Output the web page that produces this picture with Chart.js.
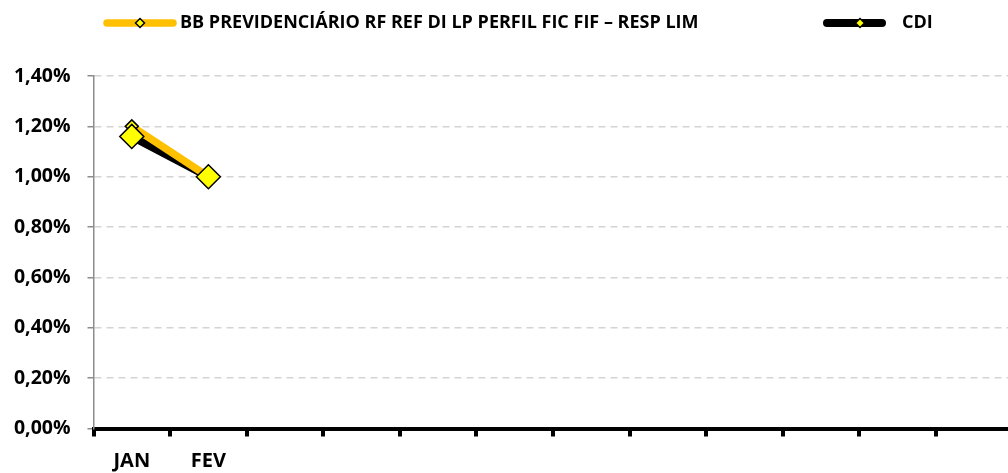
<!DOCTYPE html>
<html>
<head>
<meta charset="utf-8">
<script src="https://cdn.jsdelivr.net/npm/chart.js@4.4.1/dist/chart.umd.min.js"></script>
<style>
body { margin: 0; background: #fff; overflow: hidden; }
#wrap { position: relative; width: 1030px; height: 473px; }
</style>
</head>
<body>
<div id="wrap"><canvas id="chart"></canvas></div>
<script>
var months = ['JAN', 'FEV', '', '', '', '', '', '', '', '', '', ''];
var bbValues = [1.20, 1.00];
var cdiValues = [1.16, 1.00];
var yTicks = [0, 0.2, 0.4, 0.6, 0.8, 1.0, 1.2, 1.4];
var seriesNames = ['BB PREVIDENCIÁRIO RF REF DI LP PERFIL FIC FIF – RESP LIM', 'CDI'];

var gold = '#FFC000', yellow = '#FFFF00', black = '#000000', grey = '#8c8c8c';
var fontFamily = "'Open Sans', sans-serif";

function pct(v){
	return v.toFixed(2).replace('.', ',') + '%';
}

// excel style legend: a short line with the marker on it, then the name
var lineLegend = {
	id: 'lineLegend',
	afterDraw: function(chart){
		var ctx = chart.ctx;
		var y = 23;
		var items = [
			{text: seriesNames[0], x1: 103, x2: 177, mx: 140, color: gold, width: 7.5, textX: 180},
			{text: seriesNames[1], x1: 823, x2: 886, mx: 860, color: black, width: 8, textX: 902}
		];
		items.forEach(function(it){
			ctx.save();
			ctx.lineCap = 'round';
			ctx.strokeStyle = it.color;
			ctx.lineWidth = it.width;
			ctx.beginPath();
			ctx.moveTo(it.x1 + 4, y);
			ctx.lineTo(it.x2 - 4, y);
			ctx.stroke();
			ctx.beginPath();
			ctx.moveTo(it.mx - 4.5, y);
			ctx.lineTo(it.mx, y - 4.5);
			ctx.lineTo(it.mx + 4.5, y);
			ctx.lineTo(it.mx, y + 4.5);
			ctx.closePath();
			ctx.fillStyle = yellow;
			ctx.fill();
			ctx.lineWidth = 1.5;
			ctx.strokeStyle = black;
			ctx.stroke();
			ctx.fillStyle = '#000';
			ctx.font = 'bold 18px ' + fontFamily;
			ctx.textBaseline = 'middle';
			ctx.fillText(it.text, it.textX, y);
			ctx.restore();
		});
	}
};

new Chart(document.getElementById('chart'), {
	type: 'line',
	data: {
		labels: months,
		datasets: [{
			// CDI markers, kept on top of everything
			label: seriesNames[1],
			data: cdiValues,
			showLine: false,
			borderColor: black,
			pointStyle: 'rectRot',
			pointRadius: 12,
			pointBackgroundColor: yellow,
			pointBorderColor: black,
			pointBorderWidth: 1.5
		}, {
			label: seriesNames[0],
			data: bbValues,
			borderColor: gold,
			borderWidth: 7.5,
			borderCapStyle: 'round',
			borderJoinStyle: 'round',
			tension: 0,
			pointStyle: 'rectRot',
			pointRadius: 6.5,
			pointBackgroundColor: yellow,
			pointBorderColor: black,
			pointBorderWidth: 1.5
		}, {
			// CDI line, under the gold one
			label: seriesNames[1],
			data: cdiValues,
			borderColor: black,
			borderWidth: 8,
			borderCapStyle: 'round',
			tension: 0,
			pointRadius: 0
		}]
	},
	options: {
		responsive: true,
		maintainAspectRatio: false,
		animation: false,
		events: [],
		layout: {padding: {top: 76, right: 17.4, left: 0, bottom: 0}},
		plugins: {
			legend: {display: false},
			tooltip: {enabled: false}
		},
		scales: {
			x: {
				offset: true,
				grid: {offset: true, drawOnChartArea: false, color: black, lineWidth: 4, tickLength: 8},
				border: {color: black, width: 4},
				ticks: {autoSkip: false, maxRotation: 0, color: '#000', padding: 13, font: {family: fontFamily, size: 20, weight: 'bold'}},
				afterFit: function(scale){ scale.height = 44.5; }
			},
			y: {
				min: 0,
				max: 1.4,
				afterBuildTicks: function(scale){
					scale.ticks = yTicks.map(function(v){ return {value: v}; });
				},
				grid: {color: '#d4d4d4', lineWidth: 1.5, tickLength: 6, tickColor: grey, tickBorderDash: []},
				border: {color: grey, width: 1.5, dash: [7, 5]},
				ticks: {color: '#000', padding: 17, font: {family: fontFamily, size: 19.5, weight: 'bold'}, callback: function(v){ return pct(v); }},
				afterFit: function(scale){ scale.width = 93.5; }
			}
		}
	},
	plugins: [lineLegend]
});
</script>
</body>
</html>
